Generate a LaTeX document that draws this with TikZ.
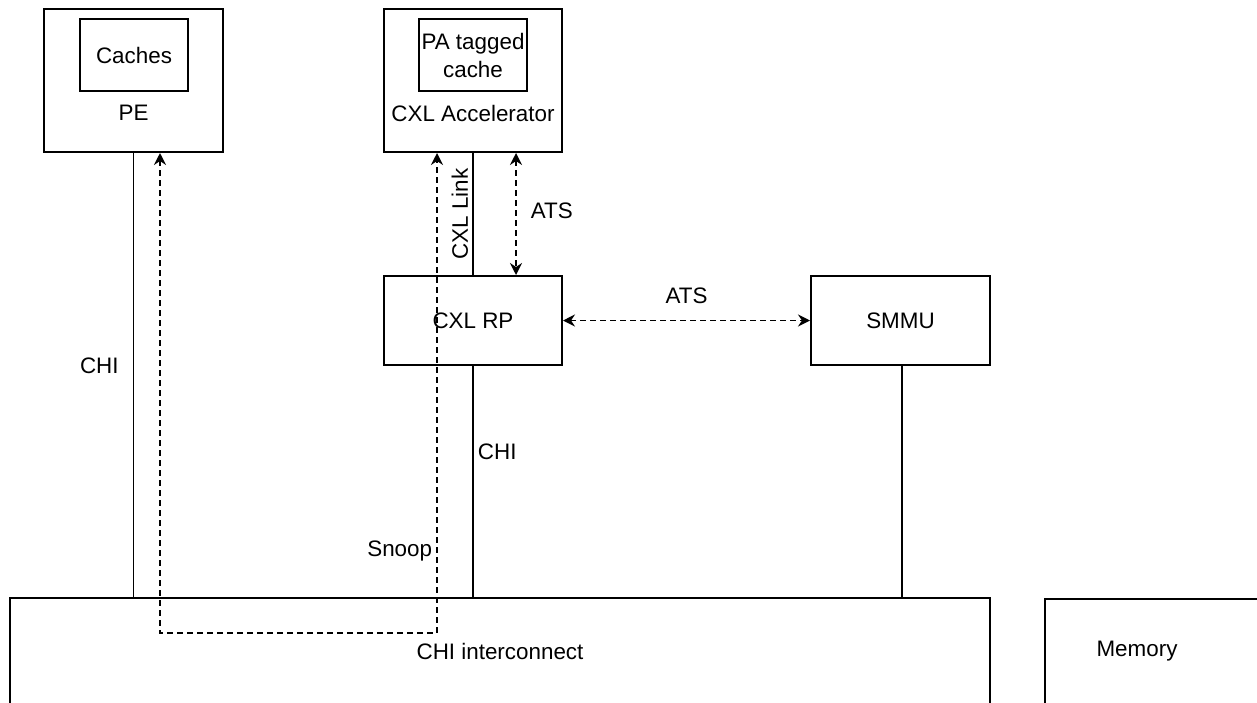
\documentclass[tikz,border=0pt]{standalone}
\usepackage{fontspec}
\setmainfont{Liberation Sans}
\usepackage{tikz}
\usetikzlibrary{
  arrows.meta,%
  calc,%
  positioning
}
\tikzset{>={Stealth[length=6pt,width=6pt,inset=2pt]}}
\tikzset{font=\fontsize{11.2}{14}\selectfont}
\tikzset{blk/.style={draw, line width=1pt, inner sep=0pt, align=center}}
\tikzset{wire/.style={line width=0.9pt}}
\tikzset{dwire/.style={wire, <->, dash pattern=on 3pt off 2pt}}
\tikzset{lbl/.style={inner sep=2pt}}

\begin{document}
\begin{tikzpicture}[x=0.5pt, y=-0.5pt]
  \clip (0,0) rectangle (1257,702);
  % top row
  \node[blk, minimum width=89.5pt, minimum height=71.5pt] (pe) at (133.5,80.5) {};
  \node[blk, minimum width=54pt, minimum height=36pt] (caches) at (134,55) {Caches};
  \node (pename) at (133.5,113) {PE};
  \node[blk, minimum width=89pt, minimum height=71.5pt] (acc) at (473,80.5) {};
  \node[blk, minimum width=54pt, minimum height=36pt] (pacache) at (473,55) {PA tagged\\cache};
  \node (accname) at (473,113) {CXL Accelerator};
  % middle row
  \node[blk, minimum width=89pt, minimum height=44.5pt] (rp) at (473,320.5) {CXL RP};
  \node[blk, minimum width=89.5pt, minimum height=44.5pt] (smmu) at (900.5,320.5) {SMMU};
  % bottom row
  \node[blk, minimum width=490pt, minimum height=53pt] (chi) at (500,651) {CHI interconnect};
  \node[blk, minimum width=140pt, minimum height=60pt, anchor=north west] (membox) at (1044,598) {};
  \node (mem) at (1137,651) {Memory};

  \draw[wire] (pe.south) -- node[lbl, left=5pt, pos=0.48] {CHI} (pe.south |- chi.north);
  \draw[wire] (rp.north) -- node[lbl, sloped, above] {CXL Link} (acc.south);
  \draw[dwire] ([xshift=21.5pt]acc.south) -- node[lbl, right=5pt, pos=0.47] {ATS} ([xshift=21.5pt]rp.north);
  \draw[dwire] (rp.east) -- node[lbl, above=6pt] {ATS} (smmu.west);
  \draw[wire] (rp.south) -- node[lbl, right, pos=0.37] {CHI} (rp.south |- chi.north);
  \draw[wire] ([xshift=0.75pt]smmu.south) -- ([xshift=0.75pt]smmu.south |- chi.north);

  \coordinate (snpe) at ([xshift=13.25pt]pe.south);
  \coordinate (snacc) at ([xshift=-18pt]acc.south);
  \draw[dwire] (snpe) |- ($(snacc)+(0,480)$) -- node[lbl, left, pos=0.17] {Snoop} (snacc);
\end{tikzpicture}
\end{document}
